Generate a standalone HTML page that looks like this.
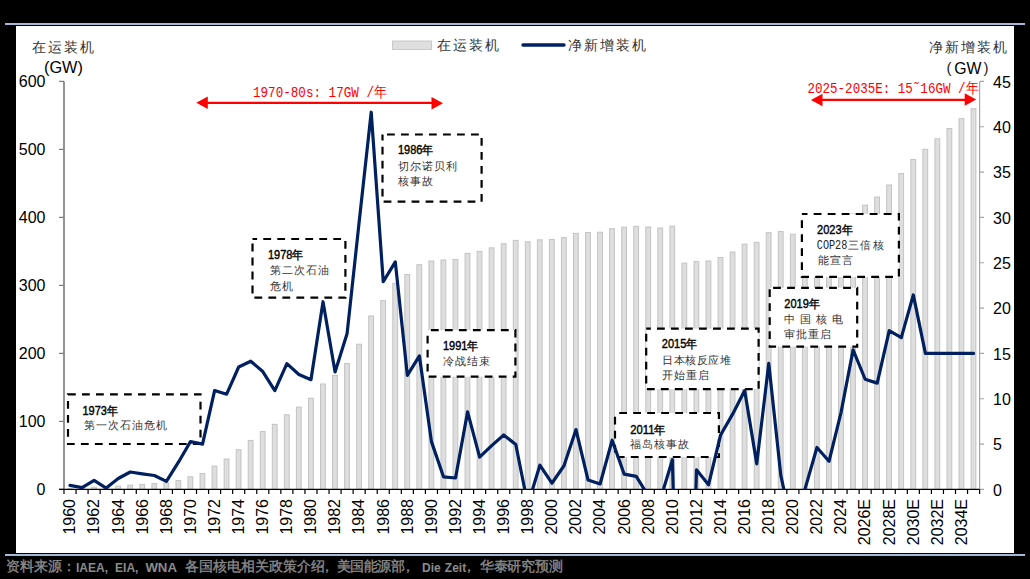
<!DOCTYPE html>
<html><head><meta charset="utf-8">
<style>
html,body{margin:0;padding:0;background:#000;width:1030px;height:579px;overflow:hidden}
svg{display:block;font-family:"Liberation Sans",sans-serif}
.bars rect{fill:#dedede;stroke:#c3c3c3;stroke-width:1}
.bx{fill:#fff;stroke:#000;stroke-width:2.2;stroke-dasharray:7.8 6.2}
.cj{fill:#333}
.yr{font-size:12px;fill:#000;stroke:#000;stroke-width:0.4}
.rd{font-family:"Liberation Mono",monospace;fill:#f00;font-size:14.5px}
</style></head><body>
<svg width="1030" height="579" viewBox="0 0 1030 579">
<rect x="5" y="23" width="1020" height="2" fill="#a3b9d9"/>
<rect x="16" y="26" width="998" height="527" fill="#fff"/>
<rect x="5" y="554" width="1020" height="2" fill="#a3b9d9"/>
<g class="bars">
<rect x="67.52" y="488.72" width="4.8" height="0.68"/>
<rect x="79.57" y="488.38" width="4.8" height="1.02"/>
<rect x="91.62" y="487.22" width="4.8" height="2.18"/>
<rect x="103.67" y="487.02" width="4.8" height="2.38"/>
<rect x="115.71" y="486.20" width="4.8" height="3.20"/>
<rect x="127.76" y="485.18" width="4.8" height="4.22"/>
<rect x="139.81" y="484.37" width="4.8" height="5.03"/>
<rect x="151.86" y="483.55" width="4.8" height="5.85"/>
<rect x="163.90" y="482.94" width="4.8" height="6.46"/>
<rect x="175.95" y="480.56" width="4.8" height="8.84"/>
<rect x="188.00" y="476.82" width="4.8" height="12.58"/>
<rect x="200.04" y="473.49" width="4.8" height="15.91"/>
<rect x="212.09" y="466.08" width="4.8" height="23.32"/>
<rect x="224.14" y="459.00" width="4.8" height="30.40"/>
<rect x="236.19" y="449.69" width="4.8" height="39.71"/>
<rect x="248.23" y="440.44" width="4.8" height="48.96"/>
<rect x="260.28" y="431.53" width="4.8" height="57.87"/>
<rect x="272.33" y="424.32" width="4.8" height="65.08"/>
<rect x="284.38" y="414.80" width="4.8" height="74.60"/>
<rect x="296.42" y="407.12" width="4.8" height="82.28"/>
<rect x="308.47" y="398.28" width="4.8" height="91.12"/>
<rect x="320.52" y="384.00" width="4.8" height="105.40"/>
<rect x="332.57" y="375.43" width="4.8" height="113.97"/>
<rect x="344.61" y="363.60" width="4.8" height="125.80"/>
<rect x="356.66" y="344.22" width="4.8" height="145.18"/>
<rect x="368.71" y="316.00" width="4.8" height="173.40"/>
<rect x="380.76" y="300.63" width="4.8" height="188.77"/>
<rect x="392.80" y="283.36" width="4.8" height="206.04"/>
<rect x="404.85" y="274.52" width="4.8" height="214.88"/>
<rect x="416.90" y="264.73" width="4.8" height="224.67"/>
<rect x="428.94" y="260.99" width="4.8" height="228.41"/>
<rect x="440.99" y="259.97" width="4.8" height="229.43"/>
<rect x="453.04" y="259.56" width="4.8" height="229.84"/>
<rect x="465.09" y="253.44" width="4.8" height="235.96"/>
<rect x="477.13" y="251.40" width="4.8" height="238.00"/>
<rect x="489.18" y="247.86" width="4.8" height="241.54"/>
<rect x="501.23" y="243.78" width="4.8" height="245.62"/>
<rect x="513.28" y="240.38" width="4.8" height="249.02"/>
<rect x="525.32" y="241.81" width="4.8" height="247.59"/>
<rect x="537.37" y="239.84" width="4.8" height="249.56"/>
<rect x="549.42" y="239.50" width="4.8" height="249.90"/>
<rect x="561.47" y="237.66" width="4.8" height="251.74"/>
<rect x="573.51" y="233.38" width="4.8" height="256.02"/>
<rect x="585.56" y="232.50" width="4.8" height="256.90"/>
<rect x="597.61" y="232.22" width="4.8" height="257.18"/>
<rect x="609.66" y="228.69" width="4.8" height="260.71"/>
<rect x="621.70" y="227.19" width="4.8" height="262.21"/>
<rect x="633.75" y="226.38" width="4.8" height="263.02"/>
<rect x="645.80" y="226.99" width="4.8" height="262.41"/>
<rect x="657.84" y="228.01" width="4.8" height="261.39"/>
<rect x="669.89" y="226.10" width="4.8" height="263.30"/>
<rect x="681.94" y="263.10" width="4.8" height="226.30"/>
<rect x="693.99" y="261.60" width="4.8" height="227.80"/>
<rect x="706.03" y="260.99" width="4.8" height="228.41"/>
<rect x="718.08" y="257.52" width="4.8" height="231.88"/>
<rect x="730.13" y="252.01" width="4.8" height="237.39"/>
<rect x="742.18" y="244.12" width="4.8" height="245.28"/>
<rect x="754.22" y="242.42" width="4.8" height="246.98"/>
<rect x="766.27" y="232.70" width="4.8" height="256.70"/>
<rect x="778.32" y="231.48" width="4.8" height="257.92"/>
<rect x="790.37" y="234.26" width="4.8" height="255.14"/>
<rect x="802.41" y="231.00" width="4.8" height="258.40"/>
<rect x="814.46" y="227.60" width="4.8" height="261.80"/>
<rect x="826.51" y="224.20" width="4.8" height="265.20"/>
<rect x="838.56" y="218.76" width="4.8" height="270.64"/>
<rect x="850.60" y="214.00" width="4.8" height="275.40"/>
<rect x="862.65" y="205.16" width="4.8" height="284.24"/>
<rect x="874.70" y="197.00" width="4.8" height="292.40"/>
<rect x="886.74" y="185.03" width="4.8" height="304.37"/>
<rect x="898.79" y="173.61" width="4.8" height="315.79"/>
<rect x="910.84" y="159.53" width="4.8" height="329.87"/>
<rect x="922.89" y="149.33" width="4.8" height="340.07"/>
<rect x="934.93" y="138.79" width="4.8" height="350.61"/>
<rect x="946.98" y="128.59" width="4.8" height="360.81"/>
<rect x="959.03" y="118.66" width="4.8" height="370.74"/>
<rect x="971.08" y="108.67" width="4.8" height="380.73"/>
</g>

<path d="M64 81.4V489.4" stroke="#6f6f6f" stroke-width="1.5" fill="none"/>
<path d="M59 489.40H64 M59 421.40H64 M59 353.40H64 M59 285.40H64 M59 217.40H64 M59 149.40H64 M59 81.40H64" stroke="#7f7f7f" stroke-width="1.2" fill="none"/>
<path d="M979.6 81.8V489.4" stroke="#a6a6a6" stroke-width="1.2" fill="none"/>
<path d="M979.6 489.40H984 M979.6 444.07H984 M979.6 398.73H984 M979.6 353.40H984 M979.6 308.07H984 M979.6 262.73H984 M979.6 217.40H984 M979.6 172.07H984 M979.6 126.73H984 M979.6 81.40H984" stroke="#a6a6a6" stroke-width="1.2" fill="none"/>
<path d="M59 489.4H979.6" stroke="#000" stroke-width="1.4" fill="none"/>
<path d="M64.00 489.4V494 M76.05 489.4V494 M88.09 489.4V494 M100.14 489.4V494 M112.19 489.4V494 M124.24 489.4V494 M136.28 489.4V494 M148.33 489.4V494 M160.38 489.4V494 M172.43 489.4V494 M184.47 489.4V494 M196.52 489.4V494 M208.57 489.4V494 M220.62 489.4V494 M232.66 489.4V494 M244.71 489.4V494 M256.76 489.4V494 M268.81 489.4V494 M280.85 489.4V494 M292.90 489.4V494 M304.95 489.4V494 M316.99 489.4V494 M329.04 489.4V494 M341.09 489.4V494 M353.14 489.4V494 M365.18 489.4V494 M377.23 489.4V494 M389.28 489.4V494 M401.33 489.4V494 M413.37 489.4V494 M425.42 489.4V494 M437.47 489.4V494 M449.52 489.4V494 M461.56 489.4V494 M473.61 489.4V494 M485.66 489.4V494 M497.71 489.4V494 M509.75 489.4V494 M521.80 489.4V494 M533.85 489.4V494 M545.89 489.4V494 M557.94 489.4V494 M569.99 489.4V494 M582.04 489.4V494 M594.08 489.4V494 M606.13 489.4V494 M618.18 489.4V494 M630.23 489.4V494 M642.27 489.4V494 M654.32 489.4V494 M666.37 489.4V494 M678.42 489.4V494 M690.46 489.4V494 M702.51 489.4V494 M714.56 489.4V494 M726.61 489.4V494 M738.65 489.4V494 M750.70 489.4V494 M762.75 489.4V494 M774.79 489.4V494 M786.84 489.4V494 M798.89 489.4V494 M810.94 489.4V494 M822.98 489.4V494 M835.03 489.4V494 M847.08 489.4V494 M859.13 489.4V494 M871.17 489.4V494 M883.22 489.4V494 M895.27 489.4V494 M907.32 489.4V494 M919.36 489.4V494 M931.41 489.4V494 M943.46 489.4V494 M955.51 489.4V494 M967.55 489.4V494 M979.60 489.4V494" stroke="#000" stroke-width="1.2" fill="none"/>
<g font-size="16" fill="#000">
<text x="45.5" y="495.40" text-anchor="end">0</text>
<text x="45.5" y="427.40" text-anchor="end">100</text>
<text x="45.5" y="359.40" text-anchor="end">200</text>
<text x="45.5" y="291.40" text-anchor="end">300</text>
<text x="45.5" y="223.40" text-anchor="end">400</text>
<text x="45.5" y="155.40" text-anchor="end">500</text>
<text x="45.5" y="87.40" text-anchor="end">600</text>
<text x="993" y="495.60">0</text>
<text x="993" y="450.27">5</text>
<text x="993" y="404.93">10</text>
<text x="993" y="359.60">15</text>
<text x="993" y="314.27">20</text>
<text x="993" y="268.93">25</text>
<text x="993" y="223.60">30</text>
<text x="993" y="178.27">35</text>
<text x="993" y="132.93">40</text>
<text x="993" y="87.60">45</text>
<text transform="translate(75.32,499) rotate(-90)" text-anchor="end">1960</text>
<text transform="translate(99.42,499) rotate(-90)" text-anchor="end">1962</text>
<text transform="translate(123.51,499) rotate(-90)" text-anchor="end">1964</text>
<text transform="translate(147.61,499) rotate(-90)" text-anchor="end">1966</text>
<text transform="translate(171.70,499) rotate(-90)" text-anchor="end">1968</text>
<text transform="translate(195.80,499) rotate(-90)" text-anchor="end">1970</text>
<text transform="translate(219.89,499) rotate(-90)" text-anchor="end">1972</text>
<text transform="translate(243.99,499) rotate(-90)" text-anchor="end">1974</text>
<text transform="translate(268.08,499) rotate(-90)" text-anchor="end">1976</text>
<text transform="translate(292.18,499) rotate(-90)" text-anchor="end">1978</text>
<text transform="translate(316.27,499) rotate(-90)" text-anchor="end">1980</text>
<text transform="translate(340.37,499) rotate(-90)" text-anchor="end">1982</text>
<text transform="translate(364.46,499) rotate(-90)" text-anchor="end">1984</text>
<text transform="translate(388.56,499) rotate(-90)" text-anchor="end">1986</text>
<text transform="translate(412.65,499) rotate(-90)" text-anchor="end">1988</text>
<text transform="translate(436.74,499) rotate(-90)" text-anchor="end">1990</text>
<text transform="translate(460.84,499) rotate(-90)" text-anchor="end">1992</text>
<text transform="translate(484.93,499) rotate(-90)" text-anchor="end">1994</text>
<text transform="translate(509.03,499) rotate(-90)" text-anchor="end">1996</text>
<text transform="translate(533.12,499) rotate(-90)" text-anchor="end">1998</text>
<text transform="translate(557.22,499) rotate(-90)" text-anchor="end">2000</text>
<text transform="translate(581.31,499) rotate(-90)" text-anchor="end">2002</text>
<text transform="translate(605.41,499) rotate(-90)" text-anchor="end">2004</text>
<text transform="translate(629.50,499) rotate(-90)" text-anchor="end">2006</text>
<text transform="translate(653.60,499) rotate(-90)" text-anchor="end">2008</text>
<text transform="translate(677.69,499) rotate(-90)" text-anchor="end">2010</text>
<text transform="translate(701.79,499) rotate(-90)" text-anchor="end">2012</text>
<text transform="translate(725.88,499) rotate(-90)" text-anchor="end">2014</text>
<text transform="translate(749.98,499) rotate(-90)" text-anchor="end">2016</text>
<text transform="translate(774.07,499) rotate(-90)" text-anchor="end">2018</text>
<text transform="translate(798.17,499) rotate(-90)" text-anchor="end">2020</text>
<text transform="translate(822.26,499) rotate(-90)" text-anchor="end">2022</text>
<text transform="translate(846.36,499) rotate(-90)" text-anchor="end">2024</text>
<text transform="translate(870.45,499) rotate(-90)" text-anchor="end">2026E</text>
<text transform="translate(894.54,499) rotate(-90)" text-anchor="end">2028E</text>
<text transform="translate(918.64,499) rotate(-90)" text-anchor="end">2030E</text>
<text transform="translate(942.73,499) rotate(-90)" text-anchor="end">2032E</text>
<text transform="translate(966.83,499) rotate(-90)" text-anchor="end">2034E</text>
</g>
<!-- axis titles -->
<text x="32" y="52" font-size="14" class="cj" letter-spacing="2">在运装机</text>
<text x="44" y="73" font-size="16.3">(GW)</text>
<text x="929" y="52" font-size="14" class="cj" letter-spacing="2">净新增装机</text>
<text x="946.5" y="73" font-size="15" fill="#222">(</text><text x="954.3" y="74.3" font-size="15.8">GW</text><text x="983.5" y="73" font-size="15" fill="#222">)</text>
<!-- legend -->
<rect x="392.5" y="41" width="39" height="8.5" fill="#dfdfdf" stroke="#c6c6c6" stroke-width="0.9"/>
<text x="437" y="50" font-size="14" class="cj" letter-spacing="2">在运装机</text>
<path d="M523 45H564" stroke="#002060" stroke-width="3.4" stroke-linecap="round"/>
<text x="568" y="50" font-size="14" class="cj" letter-spacing="2">净新增装机</text>
<!-- red arrows -->
<path d="M206 102.8H433" stroke="#f00" stroke-width="2.3"/>
<path d="M196.3 102.8L207.8 96.5V109Z M443 103.2L431.5 97V109.5Z" fill="#f00"/>
<text x="253" y="97" class="rd" textLength="134" lengthAdjust="spacingAndGlyphs">1970-80s: 17GW /年</text>
<path d="M821 99.8H966" stroke="#f00" stroke-width="2.3"/>
<path d="M811 100L822.5 93.8V106.2Z M976.2 99.5L964.7 93.3V105.7Z" fill="#f00"/>
<text x="807.5" y="92.5" class="rd" textLength="171" lengthAdjust="spacingAndGlyphs">2025-2035E: 15˜16GW /年</text>
<!-- boxes -->
<rect class="bx" x="68" y="394.3" width="132.50" height="49.70" stroke-dashoffset="0"/>
<text x="82.5" y="414.5" class="yr" textLength="35.5" lengthAdjust="spacingAndGlyphs">1973年</text>
<text x="84" y="429" font-size="11" class="cj" letter-spacing="1">第一次石油危机</text>
<rect class="bx" x="252.5" y="239" width="92.90" height="58.70" stroke-dashoffset="3.2"/>
<text x="268" y="258.5" class="yr" textLength="35.5" lengthAdjust="spacingAndGlyphs">1978年</text>
<text x="269.5" y="274" font-size="11" class="cj" letter-spacing="1">第二次石油</text>
<text x="269.5" y="289.5" font-size="11" class="cj" letter-spacing="1">危机</text>
<rect class="bx" x="382.5" y="134.5" width="99.10" height="67.20" stroke-dashoffset="9.5"/>
<text x="398" y="153.5" class="yr" textLength="35.5" lengthAdjust="spacingAndGlyphs">1986年</text>
<text x="398" y="169.5" font-size="11" class="cj" letter-spacing="1">切尔诺贝利</text>
<text x="398" y="185" font-size="11" class="cj" letter-spacing="1">核事故</text>
<rect class="bx" x="427.6" y="330.1" width="87.80" height="46.60" stroke-dashoffset="10.7"/>
<text x="443" y="349.5" class="yr" textLength="35.5" lengthAdjust="spacingAndGlyphs">1991年</text>
<text x="443" y="365" font-size="11" class="cj" letter-spacing="1">冷战结束</text>
<rect class="bx" x="615" y="413" width="103.90" height="44.00" stroke-dashoffset="9.8"/>
<text x="630.2" y="433.5" class="yr" textLength="35.5" lengthAdjust="spacingAndGlyphs">2011年</text>
<text x="630.2" y="448" font-size="11" class="cj" letter-spacing="1">福岛核事故</text>
<rect class="bx" x="646.2" y="328.6" width="112.40" height="60.50" stroke-dashoffset="3.2"/>
<text x="661.8" y="348" class="yr" textLength="35.5" lengthAdjust="spacingAndGlyphs">2015年</text>
<text x="662" y="363.5" font-size="11" class="cj" letter-spacing="0.6">日本核反应堆</text>
<text x="662" y="379" font-size="11" class="cj" letter-spacing="1">开始重启</text>
<rect class="bx" x="769.7" y="287.8" width="87.50" height="58.80" stroke-dashoffset="10.6"/>
<text x="784.3" y="307.5" class="yr" textLength="35.5" lengthAdjust="spacingAndGlyphs">2019年</text>
<text x="784.3" y="323" font-size="11" class="cj" letter-spacing="5">中国核电</text>
<text x="784.3" y="338" font-size="11" class="cj" letter-spacing="1">审批重启</text>
<rect class="bx" x="801.9" y="214" width="97.00" height="62.90" stroke-dashoffset="2.2"/>
<text x="817.1" y="234" class="yr" textLength="35.5" lengthAdjust="spacingAndGlyphs">2023年</text>
<text x="816.8" y="249.4" font-family="Liberation Mono" font-size="12.5" fill="#222" textLength="30.5" lengthAdjust="spacingAndGlyphs">COP28</text><text x="848" y="249.2" font-size="11" class="cj" letter-spacing="1.4">三倍核</text>
<text x="817.5" y="264.4" font-size="11" class="cj" letter-spacing="1">能宣言</text>
<clipPath id="cp"><rect x="60" y="60" width="925" height="429.4"/></clipPath>
<polyline clip-path="url(#cp)" points="70.02,485.41 82.07,487.59 94.12,480.33 106.17,488.04 118.21,478.52 130.26,471.99 142.31,473.81 154.36,475.53 166.40,481.42 178.45,462.20 190.50,441.53 202.54,444.07 214.59,390.57 226.64,394.20 238.69,367.00 250.73,361.20 262.78,371.53 274.83,390.57 286.88,363.65 298.92,374.53 310.97,379.69 323.02,301.72 335.07,371.99 347.11,333.45 359.16,221.93 371.21,112.23 383.26,281.77 395.30,261.83 407.35,375.34 419.40,355.94 431.44,441.62 443.49,476.80 455.54,477.98 467.59,411.79 479.63,457.12 491.68,445.61 503.73,435.00 515.78,444.52 527.82,504.81 539.87,465.19 551.92,483.23 563.97,465.74 576.01,429.56 588.06,480.06 600.11,483.96 612.16,440.17 624.20,474.17 636.25,476.34 648.30,495.84 660.34,499.65 672.39,459.75 684.44,897.40 696.49,469.82 708.53,484.87 720.58,435.00 732.63,414.15 744.68,390.57 756.72,463.83 768.77,363.37 780.82,475.44 792.87,531.11 804.91,489.40 816.96,447.51 829.01,461.29 841.06,412.33 853.10,349.77 865.15,379.24 877.20,383.14 889.24,330.73 901.29,337.62 913.34,294.92 925.39,353.40 937.43,353.40 949.48,353.40 961.53,353.40 973.58,353.40" fill="none" stroke="#002060" stroke-width="3.2" stroke-linejoin="round" stroke-linecap="round"/>
<!-- source -->
<g fill="#8c8c8c">
<text x="5.5" y="571" font-size="14" stroke="#8c8c8c" stroke-width="0.35">资料来源：</text>
<text x="76" y="571.5" font-size="12" font-weight="bold" word-spacing="3.7"><tspan>IAEA, EIA, </tspan><tspan font-size="13.2">WNA</tspan></text>
<text x="185" y="571" font-size="14" stroke="#8c8c8c" stroke-width="0.35">各国核电相关政策介绍</text><text x="320" y="571" font-size="14" stroke="#8c8c8c" stroke-width="0.35">，</text><text x="337" y="571" font-size="14" stroke="#8c8c8c" stroke-width="0.35" letter-spacing="-0.6">美国能源部</text><text x="401" y="571" font-size="14" stroke="#8c8c8c" stroke-width="0.35">，</text>
<text x="422" y="571.5" font-size="12" font-weight="bold" word-spacing="0.8">Die Zeit</text>
<text x="462" y="571" font-size="14" stroke="#8c8c8c" stroke-width="0.35">，</text><text x="480" y="571" font-size="14" stroke="#8c8c8c" stroke-width="0.35" letter-spacing="-0.3">华泰研究预测</text>
</g>
</svg>
</body></html>
